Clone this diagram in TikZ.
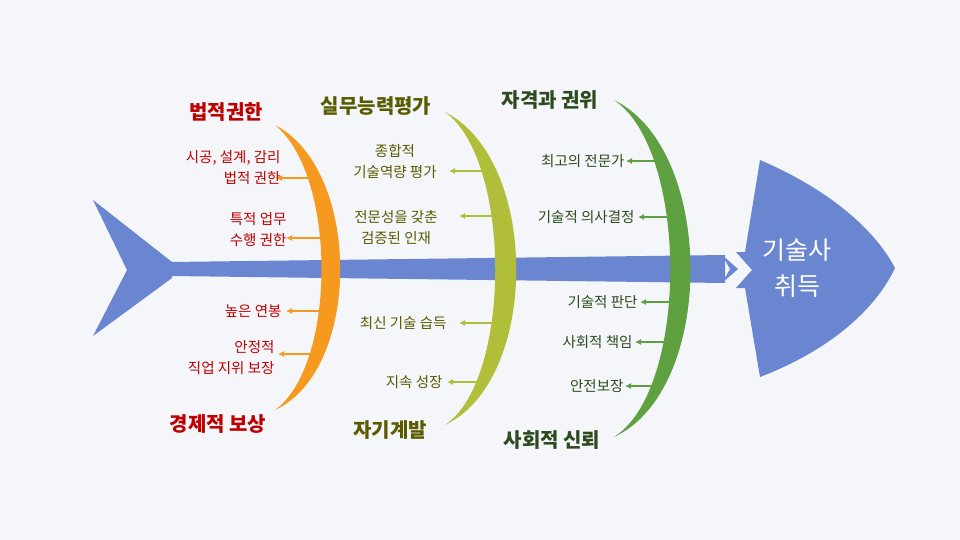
\documentclass[tikz,border=0pt]{standalone}
\usepackage{fontspec}
\usetikzlibrary{arrows.meta}
\setmainfont{Noto Sans CJK KR}
\begin{document}
\begin{tikzpicture}[x=1pt,y=-1pt,
  lbl/.style={font=\fontsize{14.5}{21}\selectfont, align=right, anchor=east},
  ttl/.style={font=\fontsize{20}{24}\selectfont\bfseries},
  arr/.style={-{Latex[length=6pt,width=6pt]}, line width=1.8pt}]
\definecolor{bg}{HTML}{F4F6FA}
\definecolor{fish}{HTML}{6A86D0}
\definecolor{orb}{HTML}{F59A1E}
\definecolor{ygb}{HTML}{B0BE3A}
\definecolor{grb}{HTML}{5FA040}
\definecolor{redt}{HTML}{C00000}
\definecolor{olt}{HTML}{5A5A00}
\definecolor{grt}{HTML}{2E4A1E}
\fill[bg] (0,0) rectangle (960,540);
\useasboundingbox (0,0) rectangle (960,540);
% tail
\fill[fish] (93,200) -- (172,262) -- (172,278) -- (93,336) -- (127,270) -- cycle;
% spine
\fill[fish] (170,262) -- (725,255) -- (725,283) -- (170,276) -- cycle;
\fill[fish] (722,255) -- (738,269) -- (722,283) -- (730,269) -- cycle;
% head
\fill[fish] (760,160) .. controls (830,190) and (875,230) .. (895,268) .. controls (875,310) and (830,350) .. (760,377) -- (745,288) -- (736,288) -- (752,270) -- (736,252) -- (745,252) -- cycle;
\node[font=\fontsize{25}{36}\selectfont, text=white, align=center] (head) at (797,268) {기술사\\취득};
% bones
\fill[orb] (275,125) .. controls (362,170) and (362,370) .. (275,410) .. controls (337,365) and (337,175) .. (275,125) -- cycle;
\fill[ygb] (445,112) .. controls (540,160) and (540,380) .. (445,425) .. controls (512,380) and (512,160) .. (445,112) -- cycle;
\fill[grb] (614,100) .. controls (716,150) and (716,390) .. (614,437) .. controls (689,390) and (689,150) .. (614,100) -- cycle;
% titles
\node[ttl, text=redt] (t1) at (226,112) {법적권한};
\node[ttl, text=redt] (t2) at (218,424) {경제적 보상};
\node[ttl, text=olt] (t3) at (376,106) {실무능력평가};
\node[ttl, text=olt] (t4) at (390,430) {자기계발};
\node[ttl, text=grt] (t5) at (550,100) {자격과 권위};
\node[ttl, text=grt] (t6) at (552,440) {사회적 신뢰};
% orange
\coordinate (o1) at (312,178); \coordinate (o2) at (322,238);
\coordinate (o3) at (322,311); \coordinate (o4) at (314,354);
\draw[arr, orb] (o1) -- +(-36,0);
\draw[arr, orb] (o2) -- +(-36,0);
\draw[arr, orb] (o3) -- +(-36,0);
\draw[arr, orb] (o4) -- +(-36,0);
\node[lbl, text=redt] (l1) at (284,168) {시공, 설계, 감리\\법적 권한};
\node[lbl, text=redt] (l2) at (290,230) {특적 업무\\수행 권한};
\node[lbl, text=redt] (l3) at (285,311) {높은 연봉};
\node[lbl, text=redt] (l4) at (278,358) {안정적\\직업 지위 보장};
% middle
\coordinate (m1) at (486,171); \coordinate (m2) at (496,216);
\coordinate (m3) at (496,323); \coordinate (m4) at (484,382);
\draw[arr, ygb] (m1) -- +(-37,0);
\draw[arr, ygb] (m2) -- +(-37,0);
\draw[arr, ygb] (m3) -- +(-37,0);
\draw[arr, ygb] (m4) -- +(-37,0);
\node[lbl, text=olt, align=center, anchor=center] (n1) at (395,162) {종합적\\기술역량 평가};
\node[lbl, text=olt, align=center, anchor=center] (n2) at (396,228) {전문성을 갖춘\\검증된 인재};
\node[lbl, text=olt] (n3) at (450,323) {최신 기술 습득};
\node[lbl, text=olt] (n4) at (446,382) {지속 성장};
% right
\coordinate (g1) at (658,161); \coordinate (g2) at (670,217);
\coordinate (g3) at (672,302); \coordinate (g4) at (667,342); \coordinate (g5) at (657,386);
\draw[arr, grb] (g1) -- +(-32,0);
\draw[arr, grb] (g2) -- +(-32,0);
\draw[arr, grb] (g3) -- +(-32,0);
\draw[arr, grb] (g4) -- +(-32,0);
\draw[arr, grb] (g5) -- +(-32,0);
\node[lbl, text=grt] (r1) at (628,161) {최고의 전문가};
\node[lbl, text=grt] (r2) at (638,217) {기술적 의사결정};
\node[lbl, text=grt] (r3) at (641,302) {기술적 판단};
\node[lbl, text=grt] (r4) at (636,342) {사회적 책임};
\node[lbl, text=grt] (r5) at (627,386) {안전보장};
\end{tikzpicture}
\end{document}
